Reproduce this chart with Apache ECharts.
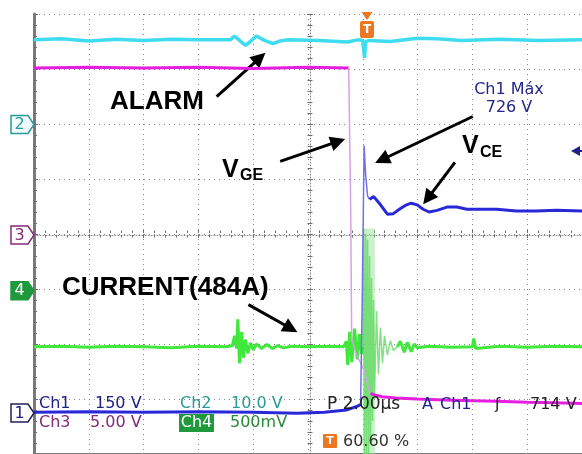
<!DOCTYPE html>
<html><head><meta charset="utf-8">
<script src="https://cdn.jsdelivr.net/npm/echarts@6/dist/echarts.min.js"></script>
<style>html,body{margin:0;padding:0;background:#fff}#c{width:582px;height:454px}</style>
</head><body><div id="c"></div>
<script>
// Units: x = horizontal screen divisions (2.00 µs/div), y = vertical screen divisions from bottom
const ch2Alarm = [[0,7.53],[0.5,7.55],[1,7.51],[1.5,7.54],[2,7.52],[2.5,7.54],[3,7.53],[3.587,7.53],[3.659,7.6],[3.75,7.52],[3.859,7.43],[3.949,7.5],[4.058,7.6],[4.203,7.52],[4.366,7.46],[4.493,7.51],[4.638,7.53],[5.2,7.52],[5.725,7.49],[5.906,7.53],[5.996,7.52],[6.033,7.2],[6.051,7.5],[6.123,7.52],[6.5,7.5],[7.0,7.56],[7.355,7.55],[7.8,7.52],[8.5,7.54],[9.2,7.52],[10,7.53]];
const ch3GateHigh = [[0,7.02],[1,7.03],[2,7.02],[3,7.03],[4,7.01],[5,7.03],[5.743,7.02]];
const ch3GateFall = [[5.743,7.02],[5.779,4.5],[5.797,2.1],[5.87,1.85],[5.96,1.65],[6.033,1.5],[6.105,1.2],[6.141,1.1]];
const ch3GateLow = [[6.141,1.1],[6.2,1.08],[6.35,1.04],[6.6,1.02],[7.0,1.0],[7.5,0.98],[8.0,0.97],[8.44,0.96],[9.0,0.94],[9.5,0.93],[10,0.92]];
const ch1VceLow = [[0,0.76],[1,0.77],[2,0.76],[3,0.77],[4,0.76],[4.8,0.74],[5.3,0.76],[5.7,0.8],[5.906,0.87],[5.96,0.9]];
const ch1VceRise = [[5.96,0.9],[5.99,2.8],[6.024,5.61],[6.05,5.1],[6.087,4.69],[6.123,4.63]];
const ch1VceHigh = [[6.123,4.63],[6.2,4.68],[6.3,4.56],[6.449,4.36],[6.558,4.37],[6.667,4.45],[6.775,4.52],[6.884,4.56],[6.993,4.53],[7.101,4.45],[7.21,4.40],[7.355,4.43],[7.536,4.49],[7.717,4.49],[7.899,4.45],[8.08,4.45],[8.442,4.45],[8.804,4.42],[9.167,4.42],[9.529,4.43],[10,4.42]];
const ch4Current = [[0,1.95],[0.5,1.96],[1,1.94],[1.5,1.96],[2,1.95],[2.5,1.93],[3,1.96],[3.5,1.95],[3.62,1.97],[3.66,2.15],[3.70,1.92],[3.72,2.45],[3.75,1.65],[3.79,2.22],[3.82,1.75],[3.86,2.08],[3.9,1.83],[3.95,2.02],[4.0,1.89],[4.06,2.0],[4.15,1.92],[4.25,1.99],[4.35,1.92],[4.45,1.97],[4.55,1.93],[4.7,1.96],[5.0,1.95],[5.4,1.96],[5.65,1.95],[5.7,2.05],[5.725,1.62],[5.76,2.22],[5.8,1.67],[5.85,2.28],[5.9,1.72],[5.94,2.18],[5.98,1.82],[6.0,1.95]];
const ch4Burst = [[6.0,1.95],[6.014,4.1],[6.033,0],[6.051,4.0],[6.069,0],[6.087,3.9],[6.105,0],[6.123,3.6],[6.141,0.2],[6.159,3.2],[6.178,0.6],[6.196,2.8],[6.214,1.0],[6.25,2.6],[6.286,1.45],[6.322,2.3],[6.359,1.65],[6.395,2.15],[6.449,1.8],[6.504,2.06],[6.558,1.88],[6.63,1.95]];
const ch4Tail = [[6.63,1.95],[6.685,2.05],[6.757,1.85],[6.812,2.03],[6.884,1.86],[6.938,2.0],[6.993,1.93],[7.2,1.96],[7.6,1.94],[8.0,1.95],[8.025,2.1],[8.06,1.92],[8.5,1.96],[9,1.94],[9.5,1.96],[10,1.95]];
const burstBand = [[6.0,0],[6.22,4.1]];
const arrows = [
  [[3.333,6.498],[4.122,7.204]],
  [[4.493,5.321],[5.549,5.683]],
  [[8.007,6.136],[6.348,5.35]],
  [[7.681,5.303],[7.185,4.648]],
  [[3.913,2.715],[4.688,2.282]]
];

const chart = echarts.init(document.getElementById('c'), null, {renderer:'canvas'});
const GRID = {left:34, top:14, width:552, height:442};
const dotted = {show:true, lineStyle:{color:'#858585', width:1, type:[1,4]}};
const noLabel = {show:false};
function xa(extra){return Object.assign({type:'value', min:0, max:10, interval:1, axisLabel:noLabel, splitLine:{show:false}}, extra);}
function ya(extra){return Object.assign({type:'value', min:0, max:8, interval:1, axisLabel:noLabel, splitLine:{show:false}}, extra);}
const tickStyle = {color:'#707070', width:1};
function line(data, color, width, z, extra){
  return Object.assign({type:'line', data:data, showSymbol:false, symbol:'none', smooth:false, z:z,
    lineStyle:{color:color, width:width}, xAxisIndex:0, yAxisIndex:0, animation:false}, extra||{});
}
const dark = '#20208a';
function txt(t, x, y, font, fill, align){
  return {type:'text', z:100, x:x, y:y, style:{text:t, font:font, fill:fill, align:align||'left', verticalAlign:'middle', textAlign:align||'left', textVerticalAlign:'middle'}};
}
function marker(cy, label, stroke, fill, tcolor){
  return [
    {type:'polygon', z:100, shape:{points:[[11,cy-9],[28,cy-9],[34,cy],[28,cy+9],[11,cy+9]]}, style:{fill:fill, stroke:stroke, lineWidth:1.5}},
    txt(label, 19.5, cy+0.5, '16px "DejaVu Sans"', tcolor, 'center')
  ];
}
const tekFont = '16px "DejaVu Sans"';
const annFont = 'bold 26px "Liberation Sans"';
const graphics = [].concat(
  marker(124.5,'2','#2a9a9a','#f2fbfb','#2a9a9a'),
  marker(235,'3','#862a7a','#ffffff','#862a7a'),
  marker(290.7,'4','#1e9a3c','#1e9a3c','#ffffff'),
  marker(413,'1','#20205a','#ffffff','#20208a'),
  [
    {type:'polygon', z:100, shape:{points:[[361.5,12],[372.5,12],[367,20]]}, style:{fill:'#ee7722'}},
    {type:'rect', z:100, shape:{x:360, y:21, width:14, height:17, r:2}, style:{fill:'#ee7722'}},
    txt('T', 367, 29.5, 'bold 12px "DejaVu Sans"', '#ffffff', 'center'),
    {type:'polygon', z:100, shape:{points:[[571,151],[580,146],[580,156]]}, style:{fill:'#20208a'}},
    {type:'rect', z:100, shape:{x:579, y:150, width:4, height:2}, style:{fill:'#20208a'}},
    txt('ALARM', 110, 102, annFont, '#000'),
    txt('V', 222, 170, 'bold 25px "Liberation Sans"', '#000'),
    txt('GE', 240, 176, 'bold 16px "Liberation Sans"', '#000'),
    txt('V', 462, 146, 'bold 25px "Liberation Sans"', '#000'),
    txt('CE', 480, 153, 'bold 16px "Liberation Sans"', '#000'),
    txt('CURRENT(484A)', 62, 288, annFont, '#000'),
    txt('Ch1 Máx', 509, 90, tekFont, '#26268a', 'center'),
    txt('726 V', 509, 108, tekFont, '#26268a', 'center'),
    txt('Ch1', 39, 404, tekFont, dark),
    txt('150 V', 95, 404, tekFont, dark),
    txt('Ch2', 180, 404, tekFont, '#2a9a9a'),
    txt('10.0 V', 231, 404, tekFont, '#2a9a9a'),
    txt('Ch3', 39, 423, tekFont, '#862a7a'),
    txt('5.00 V', 90, 423, tekFont, '#862a7a'),
    {type:'rect', z:100, shape:{x:179, y:414, width:35, height:18}, style:{fill:'#1e9a3c'}},
    txt('Ch4', 196.5, 423, tekFont, '#ffffff', 'center'),
    txt('500mV', 230, 423, tekFont, '#2a8a3a'),
    txt('P 2.00µs', 327, 405, '17px "DejaVu Sans"', '#222'),
    txt('A', 422, 405, tekFont, dark),
    txt('Ch1', 440, 405, tekFont, dark),
    txt('ʃ', 495, 405, tekFont, '#222'),
    txt('714 V', 530, 405, tekFont, '#222'),
    {type:'rect', z:100, shape:{x:323, y:434, width:14, height:14, r:1}, style:{fill:'#ee7722'}},
    txt('T', 330, 441.5, 'bold 11px "DejaVu Sans"', '#ffffff', 'center'),
    txt('60.60 %', 343, 442, tekFont, '#333')
  ]
);

chart.setOption({
  animation:false,
  backgroundColor:'#ffffff',
  grid:GRID,
  xAxis:[
    xa({position:'bottom', axisLine:{show:false}, axisTick:{show:false}, splitLine:dotted}),
    xa({position:'top', axisLine:{show:true, lineStyle:{color:'#7a7a7a', width:3}}, axisTick:{show:true, inside:true, length:4, lineStyle:tickStyle}, minorTick:{show:true, splitNumber:5, length:3, lineStyle:tickStyle}}),
    xa({position:'top', offset:-221, axisLine:{show:true, lineStyle:{color:'#8a8a8a', width:1, type:[1,2]}}, axisTick:{show:true, inside:true, length:3, lineStyle:tickStyle}, minorTick:{show:true, splitNumber:5, length:2.5, lineStyle:tickStyle}}),
    xa({position:'bottom', offset:-221, axisLine:{show:false}, axisTick:{show:true, inside:true, length:3, lineStyle:tickStyle}, minorTick:{show:true, splitNumber:5, length:2.5, lineStyle:tickStyle}})
  ],
  yAxis:[
    ya({position:'left', axisLine:{show:true, lineStyle:{color:'#7a7a7a', width:3}}, axisTick:{show:true, inside:true, length:4, lineStyle:tickStyle}, minorTick:{show:true, splitNumber:5, length:3, lineStyle:tickStyle}, splitLine:dotted}),
    ya({position:'left', offset:-276, axisLine:{show:true, lineStyle:{color:'#8a8a8a', width:1, type:[1,2]}}, axisTick:{show:true, inside:true, length:3, lineStyle:tickStyle}, minorTick:{show:true, splitNumber:5, length:2.5, lineStyle:tickStyle}}),
    ya({position:'right', offset:-276, axisLine:{show:false}, axisTick:{show:true, inside:true, length:3, lineStyle:tickStyle}, minorTick:{show:true, splitNumber:5, length:2.5, lineStyle:tickStyle}})
  ],
  series:[
    line(ch4Burst, 'rgba(90,215,90,0.75)', 1.5, 2, {markArea:{silent:true, itemStyle:{color:'rgba(150,228,150,0.5)'}, data:[[{coord:burstBand[0]},{coord:burstBand[1]}]]}}),
    line(ch4Current, '#3fe83a', 3, 3),
    line(ch4Tail, '#3fe83a', 3, 3),
    line(ch2Alarm, '#3fdcef', 3.5, 4, {markLine:{silent:true, symbol:['none','triangle'], symbolSize:15, label:{show:false}, lineStyle:{color:'#000', width:3, type:'solid'}, data:arrows.map(a=>[{coord:a[0]},{coord:a[1]}])}}),
    line(ch3GateHigh, '#e61ee0', 3, 5),
    line(ch3GateFall, '#d9a0e6', 1.5, 5),
    line(ch3GateLow, '#e61ee0', 3, 5),
    line(ch1VceLow, '#2828d8', 3, 6),
    line(ch1VceRise, '#7070e8', 1.5, 6),
    line(ch1VceHigh, '#2828d8', 3, 6)
  ],
  graphic:graphics
});
</script></body></html>
